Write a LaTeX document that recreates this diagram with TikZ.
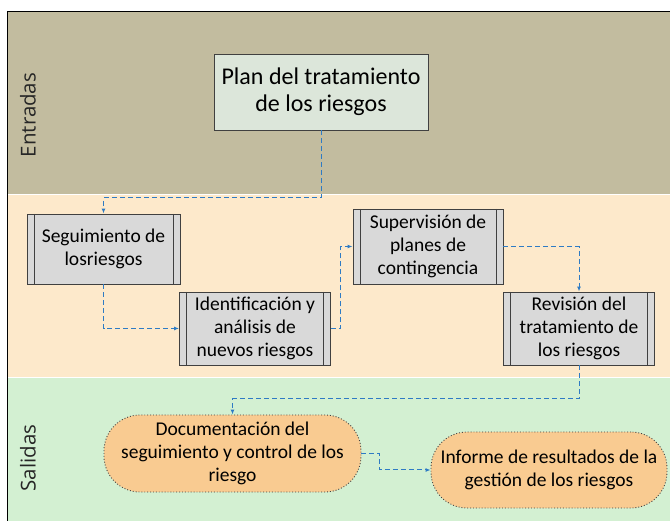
\documentclass[tikz,border=0pt]{standalone}
\usepackage{fontspec}
\setmainfont{Carlito}
\newfontfamily\lanefont{Open Sans}
\usetikzlibrary{arrows.meta}
\definecolor{tanband}{HTML}{C2BC9F}
\definecolor{orgband}{HTML}{FDE9CB}
\definecolor{grnband}{HTML}{D3F0D2}
\definecolor{planfill}{HTML}{DCE6DA}
\definecolor{procfill}{HTML}{D9D9D9}
\definecolor{ovalfill}{HTML}{F9CB91}
\definecolor{connblue}{HTML}{2E7BC4}
\definecolor{edgegray}{HTML}{404040}
\tikzset{
  planbox/.style={draw=edgegray, line width=0.9pt, fill=planfill, minimum width=214pt, minimum height=76pt, align=center, font=\fontsize{24}{27}\selectfont, inner sep=0pt},
  procbox/.style={draw=edgegray, line width=0.9pt, fill=procfill, minimum width=#1, align=center, font=\fontsize{19.5}{23}\selectfont, inner sep=0pt,
    path picture={\draw[edgegray, line width=0.9pt] ([xshift=7pt]path picture bounding box.north west) -- ([xshift=7pt]path picture bounding box.south west);
                  \draw[edgegray, line width=0.9pt] ([xshift=-7pt]path picture bounding box.north east) -- ([xshift=-7pt]path picture bounding box.south east);}},
  ovalbox/.style={draw=edgegray, dotted, line width=0.9pt, fill=ovalfill, rounded corners=36pt, align=center, font=\fontsize{19.5}{23}\selectfont, inner sep=0pt},
  conn/.style={draw=connblue, line width=1pt, dash pattern=on 5pt off 3pt, -{Latex[length=5pt,width=4pt]}},
  lanelabel/.style={rotate=90, font=\lanefont\fontsize{20.5}{22}\selectfont, text=black!85},
}
\begin{document}
\begin{tikzpicture}[x=1pt,y=-1pt]
\useasboundingbox (0,0) rectangle (670,521);
% bands
\fill[white] (0,0) rectangle (670,521);
\fill[tanband] (7,12) rectangle (670,194);
\fill[orgband] (7,195) rectangle (670,377);
\fill[grnband] (7,378) rectangle (670,521);
\draw[white, line width=1pt] (7,194.5) -- (670,194.5);
\draw[white, line width=1pt] (7,377.5) -- (670,377.5);
\draw[black, line width=1pt] (7,522) -- (7,12) -- (671,12);
% lane labels
\node[lanelabel] (lin) at (28,115) {Entradas};
\node[lanelabel] (lout) at (28,458) {Salidas};
% nodes
\node[planbox] (plan) at (321,92) {Plan del tratamiento\\de los riesgos};
\node[procbox=153pt, minimum height=70pt] (seg) at (103.5,249) {Seguimiento de\\losriesgos};
\node[procbox=151pt, minimum height=73pt] (ident) at (255,328.5) {Identificación y\\análisis de\\nuevos riesgos};
\node[procbox=150pt, minimum height=75pt] (sup) at (428,246.5) {Supervisión de\\planes de\\contingencia};
\node[procbox=151pt, minimum height=73pt] (rev) at (579,328.5) {Revisión del\\tratamiento de\\los riesgos};
\node[ovalbox, minimum width=257pt, minimum height=77pt] (doc) at (232.5,453.5) {Documentación del\\seguimiento y control de los\\riesgo};
\node[ovalbox, minimum width=236pt, minimum height=76pt] (inf) at (549,470) {Informe de resultados de la\\gestión de los riesgos};
% connectors
\coordinate (c1) at (0,198);
\coordinate (c2) at (0,399);
\draw[conn] (plan.south) -- (plan.south |- c1) -- (seg.north |- c1) -- (seg.north);
\draw[conn] (seg.south) |- (ident.west);
\draw[conn] (ident.east) -- ++(10,0) |- (sup.west);
\draw[conn] (sup.east) -| (rev.north);
\draw[conn] (rev.south) -- (rev.south |- c2) -| (doc.north);
\draw[conn] (doc.east) -- ++(18,0) |- (inf.west);
\end{tikzpicture}
\end{document}
